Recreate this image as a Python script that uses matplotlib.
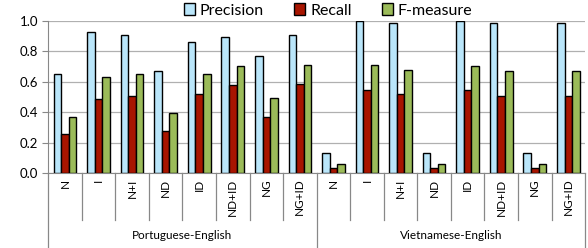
import numpy as np
import matplotlib
matplotlib.use("Agg")
import matplotlib.pyplot as plt
import matplotlib.transforms as mtransforms

plt.rcParams['font.family'] = ['Lato', 'DejaVu Sans']

# data
groups = ["Portuguese-English", "Vietnamese-English"]
methods = ["N", "I", "N+I", "ND", "ID", "ND+ID", "NG", "NG+ID"]
series = ["Precision", "Recall", "F-measure"]

pt_precision = [0.651, 0.928, 0.910, 0.669, 0.860, 0.895, 0.768, 0.910]
pt_recall = [0.257, 0.485, 0.509, 0.274, 0.518, 0.577, 0.366, 0.585]
pt_fmeasure = [0.366, 0.634, 0.651, 0.393, 0.651, 0.702, 0.491, 0.708]

vi_precision = [0.134, 1.000, 0.987, 0.134, 1.000, 0.987, 0.134, 0.987]
vi_recall = [0.031, 0.544, 0.518, 0.031, 0.544, 0.509, 0.031, 0.509]
vi_fmeasure = [0.059, 0.708, 0.675, 0.059, 0.702, 0.669, 0.059, 0.669]

colors = ["#BAE6FA", "#A81500", "#9BBB59"]

values = [pt_precision + vi_precision,
          pt_recall + vi_recall,
          pt_fmeasure + vi_fmeasure]
labels = methods * len(groups)
x = np.arange(len(labels))

fig = plt.figure(figsize=(5.88, 2.48), dpi=100)
ax = fig.add_axes([0.082, 0.302, 0.913, 0.613])

w = 0.225
for i, (name, vals) in enumerate(zip(series, values)):
    ax.bar(x + (i - 1) * w, vals, w, color=colors[i], edgecolor="black",
           linewidth=1.0, label=name, zorder=3)

ax.set_xlim(-0.5, len(labels) - 0.5)
ax.set_ylim(0, 1.0)
ax.set_yticks(np.arange(0, 1.01, 0.2))
ax.set_yticklabels([f"{v:.1f}" for v in np.arange(0, 1.01, 0.2)], fontsize=9.5)
ax.yaxis.grid(True, color="#B0B0B0", linewidth=0.9, zorder=0)
ax.set_xticks(x)
ax.set_xticklabels(labels, rotation=90, fontsize=8.5)
ax.tick_params(axis="x", length=0, pad=4)
ax.tick_params(axis="y", length=4, color="#888888", pad=3)
for s in ["top", "right"]:
    ax.spines[s].set_visible(False)
for s in ["left", "bottom"]:
    ax.spines[s].set_color("#888888")

# category separators below the axis
trans = mtransforms.blended_transform_factory(ax.transData, ax.transAxes)
n = len(methods)
for b in np.arange(-0.5, len(labels), 1.0):
    if (b + 0.5) % n == 0:
        ax.plot([b, b], [0, -0.49], color="#888888", lw=0.9,
                transform=trans, clip_on=False)
    else:
        ax.plot([b, b], [0, -0.31], color="#888888", lw=0.9,
                transform=trans, clip_on=False)
for g, name in enumerate(groups):
    ax.text(g * n + (n - 1) / 2, -0.41, name, transform=trans,
            ha="center", va="center", fontsize=8.5)

fig.legend(loc="center", bbox_to_anchor=(0.558, 0.958), ncol=3, frameon=False,
           fontsize=11.5, handlelength=0.7, handleheight=0.7,
           handletextpad=0.3, columnspacing=1.9, borderaxespad=0)

fig.savefig("out.png", dpi=100)
